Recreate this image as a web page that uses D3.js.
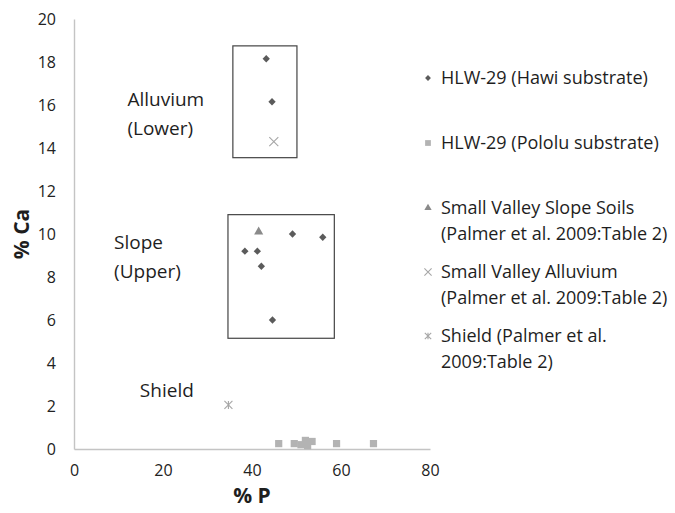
<!DOCTYPE html>
<html lang="en">
<head>
<meta charset="UTF-8">
<title>% Ca vs % P</title>
<script src="https://cdn.jsdelivr.net/npm/d3@7"></script>
<style>
  body { margin: 0; background: #fff; font-family: 'Open Sans', sans-serif; }
  .tick text { fill: #222; font-size: 16px; }
  .annot { fill: #1e1e1e; font-size: 19px; }
  .legend text { fill: #1e1e1e; font-size: 18px; }
</style>
</head>
<body>
<div id="chart"></div>
<script>
// series values [% P, % Ca]
const hawi = [[43.2, 18.15], [44.5, 16.15], [38.4, 9.2], [41.2, 9.2], [42.1, 8.5],
              [49.1, 10.0], [55.9, 9.85], [44.6, 6.0]];
const pololu = [[46, 0.25], [49.5, 0.25], [51, 0.2], [52, 0.4], [53.5, 0.35],
                [52.5, 0.15], [59, 0.25], [67.3, 0.25]];
const slopeSoils = [[41.5, 10.1]];
const valleyAlluvium = [[44.9, 14.3]];
const shield = [[34.7, 2.05]];

const xTicks = [0, 20, 40, 60, 80];
const yTicks = [0, 2, 4, 6, 8, 10, 12, 14, 16, 18, 20];

// boxes drawn round the groups [x0, x1, y0, y1]
const boxes = [[35.7, 50.1, 13.55, 18.75], [34.6, 58.5, 5.15, 10.9]];

const annotations = [
  { lines: ['Alluvium', '(Lower)'], x: 12.0, y: 15.95 },
  { lines: ['Slope', '(Upper)'], x: 9.0, y: 9.3 },
  { lines: ['Shield'], x: 14.8, y: 2.4 }
];

const legendItems = [
  { lines: ['HLW-29 (Hawi substrate)'], shape: 'diamond' },
  { lines: ['HLW-29 (Pololu substrate)'], shape: 'square' },
  { lines: ['Small Valley Slope Soils', '(Palmer et al. 2009:Table 2)'], shape: 'triangle' },
  { lines: ['Small Valley Alluvium', '(Palmer et al. 2009:Table 2)'], shape: 'cross' },
  { lines: ['Shield (Palmer et al.', '2009:Table 2)'], shape: 'asterisk' }
];

const width = 675, height = 513;
const margin = { left: 74, top: 19, right: 245, bottom: 64 };

const svg = d3.select('#chart').append('svg')
  .attr('width', width).attr('height', height);

const x = d3.scaleLinear().domain([0, 80]).range([margin.left, width - margin.right]);
const y = d3.scaleLinear().domain([0, 20]).range([height - margin.bottom, margin.top]);

// axes
const xAxis = svg.append('g')
  .attr('transform', `translate(0,${y(0)})`)
  .call(d3.axisBottom(x).tickValues(xTicks).tickSize(0).tickPadding(16));
xAxis.select('.domain').attr('stroke', '#c4c4c4').attr('stroke-width', 1.4);

const yAxis = svg.append('g')
  .attr('transform', `translate(${x(0)},0)`)
  .call(d3.axisLeft(y).tickValues(yTicks).tickSize(0).tickPadding(18));
yAxis.select('.domain').attr('stroke', '#c4c4c4').attr('stroke-width', 1.4);
svg.selectAll('.tick text').style('font-family', "'Open Sans', sans-serif");

// axis titles
svg.append('text')
  .attr('x', x(40)).attr('y', 503)
  .attr('text-anchor', 'middle')
  .style('font-size', '21px').style('font-weight', 'bold').attr('fill', '#1e1e1e')
  .text('% P');
svg.append('text')
  .attr('transform', `translate(29,234) rotate(-90)`)
  .attr('text-anchor', 'middle')
  .style('font-size', '21px').style('font-weight', 'bold').attr('fill', '#1e1e1e')
  .text('% Ca');

// boxes
svg.selectAll('.box').data(boxes).enter().append('rect')
  .attr('class', 'box')
  .attr('x', d => x(d[0])).attr('y', d => y(d[3]))
  .attr('width', d => x(d[1]) - x(d[0])).attr('height', d => y(d[2]) - y(d[3]))
  .attr('fill', 'none').attr('stroke', '#444').attr('stroke-width', 1.2);

// annotations
annotations.forEach(a => {
  const t = svg.append('text').attr('class', 'annot')
    .attr('x', x(a.x)).attr('y', y(a.y));
  a.lines.forEach((l, i) => t.append('tspan')
    .attr('x', x(a.x)).attr('dy', i ? 29 : 0).text(l));
});

// marker shapes
const sym = {
  diamond: { type: d3.symbolDiamond2, size: 34, fill: '#5b5b5b' },
  square: { type: d3.symbolSquare, size: 52, fill: '#b3b3b3' },
  triangle: { type: d3.symbolTriangle, size: 36, fill: '#8a8a8a' }
};

function drawMarker(g, shape, px, py, scale) {
  scale = scale || 1;
  if (sym[shape]) {
    const s = sym[shape];
    g.append('path')
      .attr('d', d3.symbol().type(s.type).size(s.size * scale * scale)())
      .attr('transform', `translate(${px},${py})`)
      .attr('fill', s.fill);
  } else if (shape === 'cross') {
    const r = 4.5 * scale;
    g.append('path')
      .attr('d', `M${px - r},${py - r}L${px + r},${py + r}M${px - r},${py + r}L${px + r},${py - r}`)
      .attr('stroke', '#a6a6a6').attr('stroke-width', 1.1).attr('fill', 'none');
  } else if (shape === 'asterisk') {
    const r = 4 * scale;
    g.append('path')
      .attr('d', `M${px - r},${py - r}L${px + r},${py + r}M${px - r},${py + r}L${px + r},${py - r}M${px},${py - r}L${px},${py + r}`)
      .attr('stroke', '#a6a6a6').attr('stroke-width', 1.1).attr('fill', 'none');
  }
}

const marks = svg.append('g');
const series = [
  [pololu, 'square'], [hawi, 'diamond'], [slopeSoils, 'triangle'],
  [valleyAlluvium, 'cross'], [shield, 'asterisk']
];
series.forEach(([data, shape]) => {
  data.forEach(d => drawMarker(marks, shape, x(d[0]), y(d[1])));
});

// legend
const legend = svg.append('g').attr('class', 'legend');
const legendY = [78, 143, 208, 272, 336];
legendItems.forEach((item, i) => {
  drawMarker(legend, item.shape, 428, legendY[i], 0.8);
  const t = legend.append('text').attr('x', 441).attr('y', legendY[i] + 6);
  item.lines.forEach((l, j) => t.append('tspan')
    .attr('x', 441).attr('dy', j ? 25.5 : 0).text(l));
});
</script>
</body>
</html>
